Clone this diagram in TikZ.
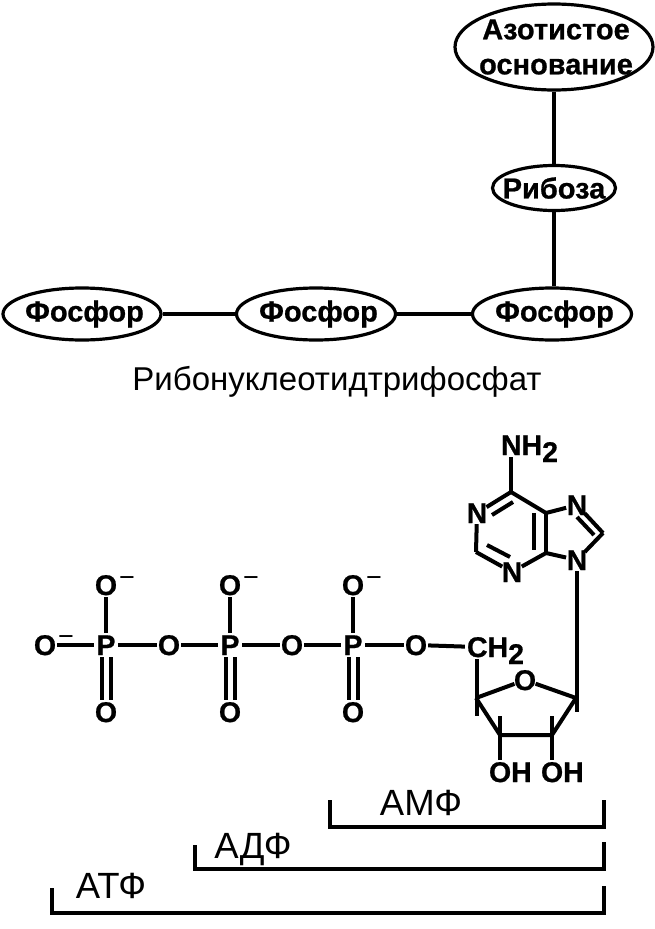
\documentclass[tikz,border=0pt]{standalone}
\usepackage{fontspec}
\setmainfont[BoldFeatures={FakeBold=0.8}]{Liberation Sans}
\newcommand{\cen}[1]{\makebox[0pt][c]{\smash{\raisebox{-10pt}{#1}}}}
\newcommand{\lft}[2]{\makebox[0pt][l]{\kern#1\smash{\raisebox{-10pt}{#2}}}}
\newcommand{\subb}[1]{\raisebox{-7pt}{#1}}
\usetikzlibrary{shapes.geometric}
\tikzset{
  bondline/.style={line width=4pt,black},
  thinbond/.style={line width=3.2pt,black},
  atomnode/.style={circle,inner sep=0pt,minimum size=#1,font=\fontsize{28.5}{28.5}\selectfont\bfseries},
  atomnode/.default=24pt,
  partnode/.style={ellipse,draw,line width=3.2pt,inner sep=-12pt,align=center,font=\fontsize{29}{35}\selectfont\bfseries},
  chargenode/.style={inner sep=0pt,font=\fontsize{27}{27}\selectfont},
  titlenode/.style={inner sep=0pt,font=\fontsize{33}{33}\selectfont},
  rangeline/.style={line width=3.2pt,black},
  rangelabel/.style={inner sep=0pt,font=\fontsize{36.5}{36.5}\selectfont},
}
\begin{document}
\begin{tikzpicture}[x=1pt,y=-1pt]
\useasboundingbox (0,0) rectangle (655,929);
% top scheme
\node[partnode,minimum width=198pt,minimum height=86pt] (base) at (554,47) {\hspace*{4pt}Азотистое\\\hspace*{4pt}основание};
\node[partnode,minimum width=123pt,minimum height=45pt] (rib) at (554,188) {Рибоза};
\node[partnode,minimum width=158pt,minimum height=52pt] (f1) at (82,314) {\hspace*{5pt}Фосфор};
\node[partnode,minimum width=159pt,minimum height=52pt] (f2) at (316,314) {\hspace*{5pt}Фосфор};
\node[partnode,minimum width=159pt,minimum height=52pt] (f3) at (552,314) {\hspace*{5pt}Фосфор};
\draw[thinbond] (base) -- (rib);
\draw[thinbond] (rib.south) -- (f3.north -| rib.south);
\draw[thinbond] (f1) -- (f2);
\draw[thinbond] (f2) -- (f3);
\node[titlenode] (t) at (337,381.5) {Рибонуклеотидтрифосфат};
% phosphates
\node[atomnode] (o0) at (45,645) {\cen{O}};
\node[atomnode] (p1) at (106,645) {\cen{P}};
\node[atomnode] (b1) at (169,645) {\cen{O}};
\node[atomnode] (p2) at (230,645) {\cen{P}};
\node[atomnode] (b2) at (292,645) {\cen{O}};
\node[atomnode] (p3) at (353,645) {\cen{P}};
\node[atomnode] (b3) at (416,645) {\cen{O}};
\node[atomnode] (up1) at (106,585) {\cen{O}};
\node[atomnode] (up2) at (230,585) {\cen{O}};
\node[atomnode] (up3) at (353,585) {\cen{O}};
\node[atomnode] (dn1) at (106,712) {\cen{O}};
\node[atomnode] (dn2) at (230,712) {\cen{O}};
\node[atomnode] (dn3) at (353,712) {\cen{O}};
\node[chargenode] (c0) at (66,641) {−};
\node[chargenode] (c1) at (127,582) {−};
\node[chargenode] (c2) at (251,582) {−};
\node[chargenode] (c3) at (374,582) {−};
\draw[bondline] (o0) -- (p1);
\draw[bondline] (p1) -- (b1);
\draw[bondline] (b1) -- (p2);
\draw[bondline] (p2) -- (b2);
\draw[bondline] (b2) -- (p3);
\draw[bondline] (p3) -- (b3);
\foreach \i in {1,2,3}{
  \draw[bondline] (up\i) -- (p\i);
  \draw[bondline] ([xshift=-4.5pt]p\i.south) -- ([xshift=-4.5pt]dn\i.north);
  \draw[bondline] ([xshift=4.5pt]p\i.south) -- ([xshift=4.5pt]dn\i.north);
}
% sugar
\node[atomnode] (ch) at (477,647) {\lft{-10pt}{CH\subb{2}}};
\node[atomnode=22pt] (ro) at (525,680) {\cen{O}};
\coordinate (c4) at (476,698);
\coordinate (c3r) at (500,735);
\coordinate (c2r) at (552,735);
\coordinate (c1r) at (576,698);
\coordinate (c4b) at (477,716);
\coordinate (c3t) at (500,716);
\coordinate (c2t) at (552,716);
\coordinate (c1b) at (577,712);
\node[atomnode] (oh3) at (500,772) {\lft{-11pt}{OH}};
\node[atomnode] (oh2) at (552,772) {\lft{-11pt}{OH}};
\draw[bondline] (b3) -- (ch);
\draw[bondline] (ch) -- (c4b);
\draw[bondline] (c4) -- (ro);
\draw[bondline] (ro) -- (c1r);
\draw[bondline] (c1r) -- (c2r) -- (c3r) -- (c4);
\draw[bondline] (c3t) -- (oh3);
\draw[bondline] (c2t) -- (oh2);
% adenine
\node[atomnode] (nh) at (511,445) {\lft{-10pt}{NH\subb{2}}};
\coordinate (c6) at (511,492);
\node[atomnode=22pt] (n1) at (477,513) {\cen{N}};
\coordinate (c2a) at (476,552);
\node[atomnode=22pt] (n3) at (512,572) {\cen{N}};
\coordinate (c4a) at (546,553);
\coordinate (c5a) at (546,513);
\node[atomnode=22pt] (n7) at (577,505) {\cen{N}};
\coordinate (c8) at (603,533);
\node[atomnode=22pt] (n9) at (577,560) {\cen{N}};
\draw[bondline] (nh) -- (c6);
\draw[bondline] (c6) -- (n1);
\draw[bondline] (n1) -- (c2a);
\draw[bondline] (c2a) -- (n3);
\draw[bondline] (n3) -- (c4a);
\draw[bondline] (c4a) -- (c5a);
\draw[bondline] (c5a) -- (c6);
\draw[bondline] (c5a) -- (n7);
\draw[bondline] (n7) -- (c8);
\draw[bondline] (c8) -- (n9);
\draw[bondline] (n9) -- (c4a);
\draw[bondline] (n9) -- (c1b);
\coordinate (d1a) at (492,515); \coordinate (d1b) at (513,502);
\coordinate (d2a) at (534,513); \coordinate (d2b) at (534,550);
\coordinate (d3a) at (487,545); \coordinate (d3b) at (510,557);
\coordinate (d4a) at (577,517); \coordinate (d4b) at (594,535);
\draw[bondline] (d1a) -- (d1b);
\draw[bondline] (d2a) -- (d2b);
\draw[bondline] (d3a) -- (d3b);
\draw[bondline] (d4a) -- (d4b);
% ranges
\coordinate (a1) at (330,800); \coordinate (a2) at (330,827); \coordinate (a3) at (604,827); \coordinate (a4) at (604,800);
\coordinate (d1) at (195,845); \coordinate (d2) at (195,869); \coordinate (d3) at (604,869); \coordinate (d4) at (604,842);
\coordinate (t1) at (52,888); \coordinate (t2) at (52,913); \coordinate (t3) at (604,913); \coordinate (t4) at (604,886);
\draw[rangeline] (a1) -- (a2) -- (a3) -- (a4);
\draw[rangeline] (d1) -- (d2) -- (d3) -- (d4);
\draw[rangeline] (t1) -- (t2) -- (t3) -- (t4);
\node[rangelabel] (amf) at (421,803) {АМФ};
\node[rangelabel] (adf) at (253,849) {АДФ};
\node[rangelabel] (atf) at (111,886) {АТФ};
\end{tikzpicture}
\end{document}
